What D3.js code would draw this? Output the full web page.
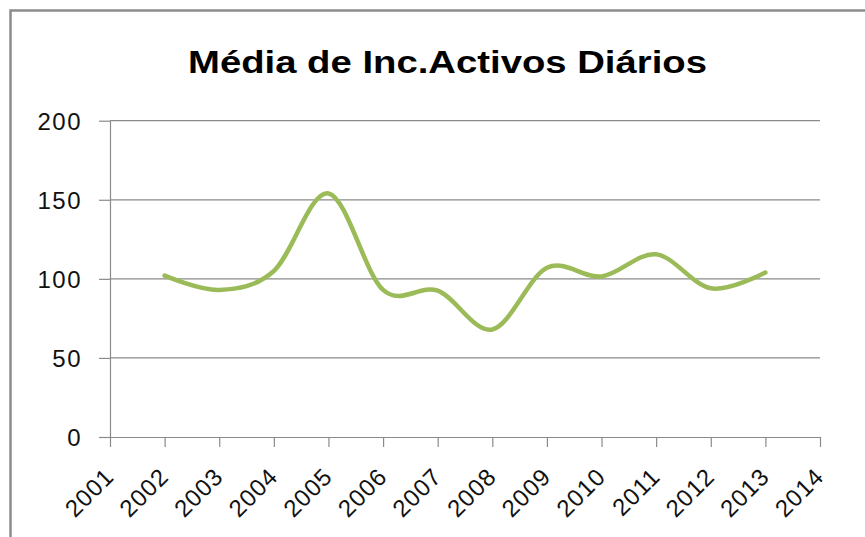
<!DOCTYPE html>
<html>
<head>
<meta charset="utf-8">
<script src="https://cdn.jsdelivr.net/npm/d3@7"></script>
<style>
  html, body { margin: 0; padding: 0; background: #fff; }
  svg { display: block; }
</style>
</head>
<body>
<svg id="chart" width="865" height="537"></svg>
<script>
const title = "Média de Inc.Activos Diários";
const categories = ["2001","2002","2003","2004","2005","2006","2007","2008","2009","2010","2011","2012","2013","2014"];
const years = ["2002","2003","2004","2005","2006","2007","2008","2009","2010","2011","2012","2013"];
const values = [102, 93, 105, 154, 93, 92.5, 68, 107, 101.5, 115.5, 94, 104];
const yTicks = [0, 50, 100, 150, 200];

const svg = d3.select("#chart");
const plot = { left: 110, right: 820, top: 120.7, bottom: 437 };

// outer frame (left + top edges visible)
svg.append("path")
  .attr("d", `M10.5,537 L10.5,10.5 L865,10.5`)
  .attr("fill", "none").attr("stroke", "#8c8c8c").attr("stroke-width", 2.5);

const x = d3.scalePoint().domain(categories).range([plot.left, plot.right]);
const y = d3.scaleLinear().domain([0, 200]).range([plot.bottom, plot.top]);

// gridlines
svg.append("g").selectAll("line").data(yTicks.filter(d => d > 0)).join("line")
  .attr("x1", plot.left).attr("x2", plot.right)
  .attr("y1", d => y(d)).attr("y2", d => y(d))
  .attr("stroke", "#8a8a8a").attr("stroke-width", 1.2);

// y axis
const yAxis = svg.append("g").attr("transform", `translate(${plot.left},0)`)
  .call(d3.axisLeft(y).tickValues(yTicks).tickSize(11).tickPadding(17).tickSizeOuter(0));
yAxis.select(".domain").attr("stroke", "#8a8a8a").attr("stroke-width", 1.2);
yAxis.selectAll(".tick line").attr("stroke", "#8a8a8a").attr("stroke-width", 1.2);
yAxis.selectAll(".tick text")
  .attr("font-family", "'Liberation Sans', Arial, sans-serif")
  .attr("font-size", 24).attr("letter-spacing", 1.5).attr("fill", "#111")
  .attr("dy", "0.36em");

// x axis
const xAxis = svg.append("g").attr("transform", `translate(0,${plot.bottom})`)
  .call(d3.axisBottom(x).tickSize(10).tickSizeOuter(0));
xAxis.select(".domain").attr("stroke", "#8a8a8a").attr("stroke-width", 1.2);
xAxis.selectAll(".tick line").attr("stroke", "#8a8a8a").attr("stroke-width", 1.2);
xAxis.selectAll(".tick text")
  .attr("font-family", "'Liberation Sans', Arial, sans-serif")
  .attr("font-size", 24).attr("letter-spacing", 1).attr("fill", "#111")
  .attr("text-anchor", "end")
  .attr("y", 0).attr("dy", 0)
  .attr("transform", "translate(5,41) rotate(-45)");

// line
const data = years.map((yr, i) => ({ yr, v: values[i] }));
const line = d3.line()
  .x(d => x(d.yr)).y(d => y(d.v))
  .curve(d3.curveCatmullRom.alpha(0));
svg.append("path").datum(data)
  .attr("d", line)
  .attr("fill", "none")
  .attr("stroke", "#9BBB59")
  .attr("stroke-width", 4.5)
  .attr("stroke-linecap", "round")
  .attr("stroke-linejoin", "round");

// title
svg.append("text")
  .attr("x", 447.5).attr("y", 73)
  .attr("text-anchor", "middle")
  .attr("font-family", "'Liberation Sans', Arial, sans-serif")
  .attr("font-weight", "bold")
  .attr("font-size", 31)
  .attr("textLength", 519)
  .attr("lengthAdjust", "spacingAndGlyphs")
  .attr("fill", "#000")
  .text(title);
</script>
</body>
</html>
